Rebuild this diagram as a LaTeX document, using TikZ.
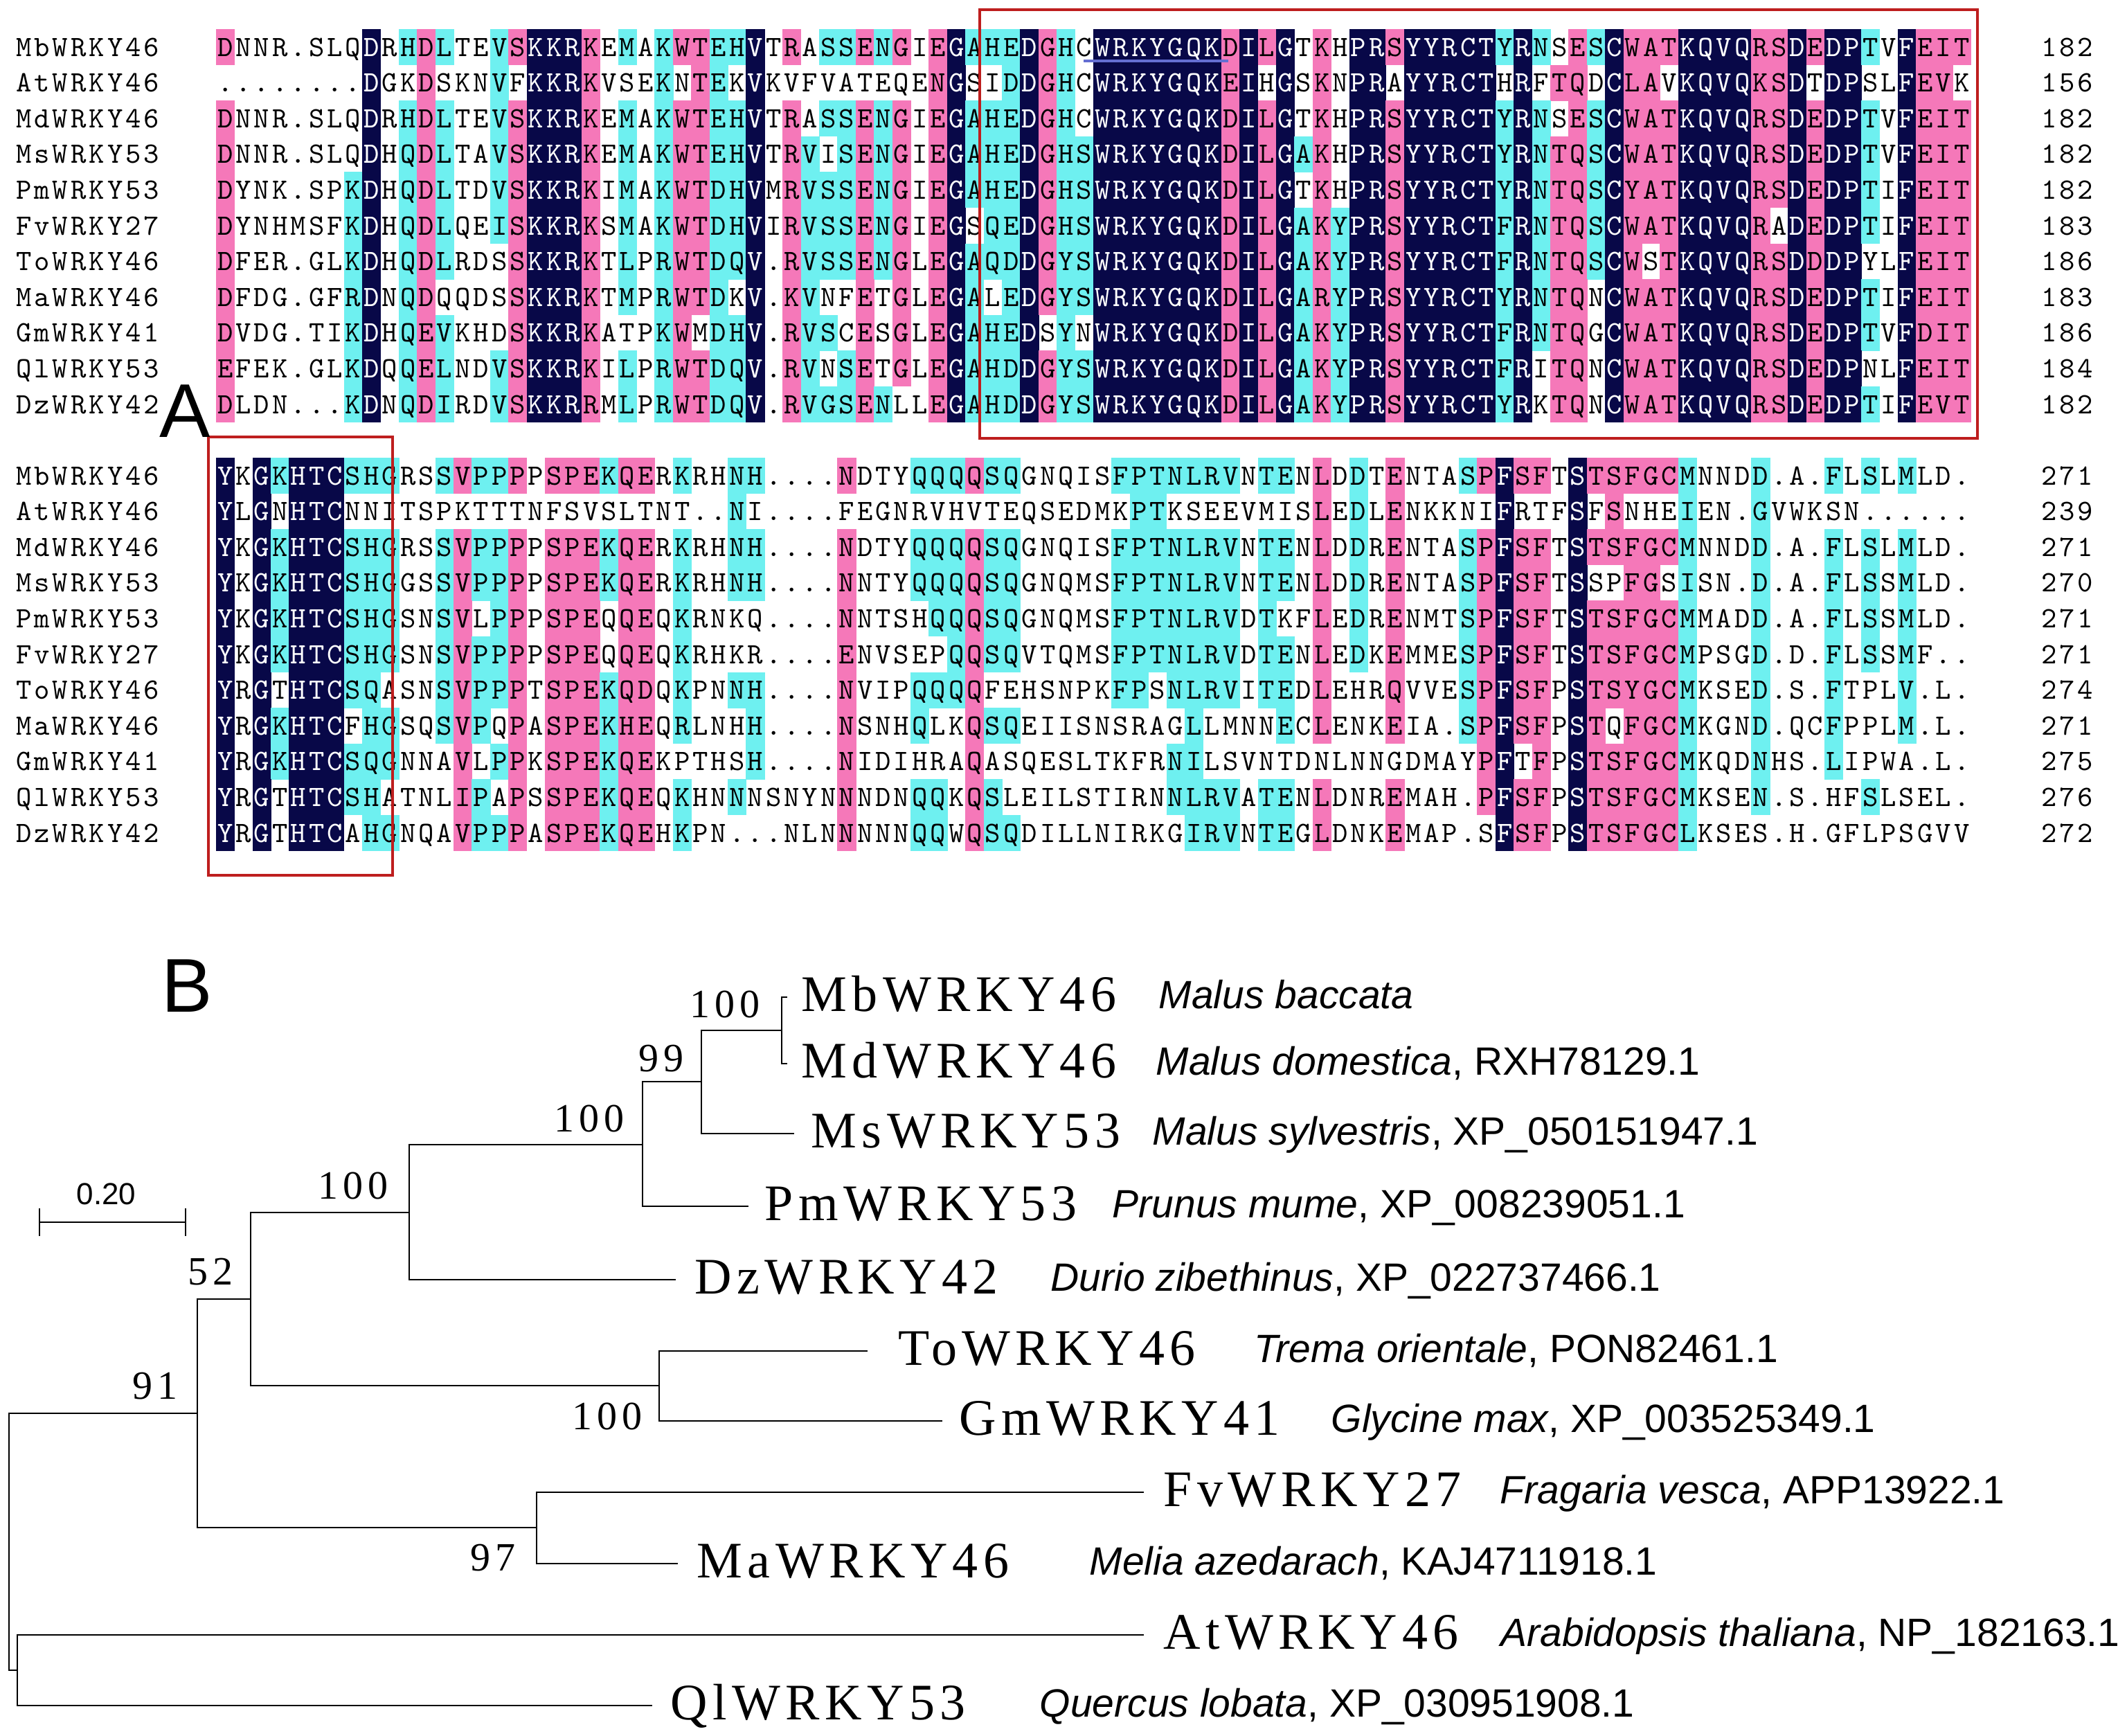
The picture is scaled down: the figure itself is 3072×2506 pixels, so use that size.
\documentclass[tikz,border=0pt]{standalone}
\usepackage{fontspec}
\setmainfont{Liberation Serif}
\newfontfamily\genef[LetterSpace=10]{Liberation Serif}
\newfontfamily\bootf[LetterSpace=12]{Liberation Serif}
\newfontfamily\sansf{Liberation Sans}
\makeatletter
\begingroup\ttfamily\addfontfeatures{FakeBold=1}\xdef\mymonofam{\f@family}\endgroup
\makeatother
\newcommand\monosel{\fontfamily{\mymonofam}\fontsize{10.65}{11}\selectfont}
\definecolor{navyc}{RGB}{8,8,72}
\definecolor{pinkc}{RGB}{245,120,185}
\definecolor{cyanc}{RGB}{110,240,240}
\definecolor{boxred}{RGB}{190,30,30}
\definecolor{ulblue}{RGB}{100,110,210}
\newcount\alcol
\def\alcy{0}
\def\alblk{1}
\def\alrow{0}
\def\alx{0}
\def\alpfx{x}
% coloured alignment cells
\def\alproc#1#2\alsep#3#4\alstop{%
  \ifx Z#1\else
    \aldocell{#1}{#3}%
    \global\advance\alcol by 1
    \alproc#2\alsep#4\alstop
  \fi}
\def\aldocell#1#2{%
  \ifx w#2\else
    \fill[bg#2] (311.7+26.4*\the\alcol,\alcy-26) rectangle (339+26.4*\the\alcol,\alcy+26);%
  \fi
  \node[seqch,tx#2] (s\alblk-\alrow-\the\alcol) at (325.2+26.4*\the\alcol,\alcy+13) {#1};%
}
% plain monospaced string, one character per 26.4 px cell
\def\alplain#1#2\alstop{%
  \ifx Z#1\else
    \node[seqch] (\alpfx-\the\alcol) at (\alx+13.2+26.4*\the\alcol,\alcy+13) {#1};%
    \global\advance\alcol by 1
    \alplain#2\alstop
  \fi}
\newcommand\seqrow[7]{%
  \def\alblk{#1}\def\alrow{#2}\def\alcy{#3}%
  \global\alcol=0
  \alproc#5Z\alsep#6Z\alstop
  \def\alx{21}\def\alpfx{nm#1-#2}\global\alcol=0
  \alplain#4Z\alstop
  \def\alx{2946}\def\alpfx{nu#1-#2}\global\alcol=0
  \alplain#7Z\alstop
}
\begin{document}
\begin{tikzpicture}[x=0.25pt,y=-0.25pt,
  bgn/.style={fill=navyc}, bgp/.style={fill=pinkc}, bgc/.style={fill=cyanc},
  txn/.style={text=white}, txp/.style={text=black}, txc/.style={text=black}, txw/.style={text=black},
  seqch/.style={font=\monosel, inner sep=0pt, anchor=base},
  redbox/.style={draw=boxred, line width=0.9pt},
  tree/.style={line width=0.7pt, line cap=rect},
  gene/.style={font=\genef\fontsize{18.5}{20}\selectfont, anchor=base west, inner sep=0pt},
  species/.style={font=\sansf\fontsize{14.25}{16}\selectfont, anchor=base west, inner sep=0pt},
  boot/.style={font=\bootf\fontsize{14.5}{16}\selectfont, anchor=base west, inner sep=0pt},
  panel/.style={font=\sansf\fontsize{27.5}{28}\selectfont, anchor=base, inner sep=0pt}]
\useasboundingbox (0,0) rectangle (3072,2506);
\fill[white] (0,0) rectangle (3072,2506);

% ---------------- Block 1 ----------------
\seqrow{1}{0}{68}{MbWRKY46}
{DNNR.SLQDR HDLTEVSKKR KEMAKWTEHV TRASSENGIE GAHEDGHCWR KYGQKDILGT KHPRSYYRCT YRNSESCWAT KQVQRSDEDP TVFEIT}
{pwwwwwwwnw cpcwwcpnnn pwcwcppccn wpwccpcpwp ncccnpcwnn nnnnnpnpnw pwnnpnnnnn cncwpcnppp nnnnppnpnn cwnppp}{182}
\seqrow{1}{1}{119.6}{AtWRKY46}
{........DG KDSKNVFKKR KVSEKNTEKV KVFVATEQEN GSIDDGHCWR KYGQKEIHGS KNPRAYYRCT HRFTQDCLAV KQVQKSDTDP SLFEVK}
{wwwwwwwwnw wpwwwcwnnn pwwwcwpcwn wwwwwwwwwp nwwcnpcwnn nnnnnpnwnw pwnnwnnnnn wnwppwnppw nnnnppnwnn wwnppw}{156}
\seqrow{1}{2}{171.2}{MdWRKY46}
{DNNR.SLQDR HDLTEVSKKR KEMAKWTEHV TRASSENGIE GAHEDGHCWR KYGQKDILGT KHPRSYYRCT YRNSESCWAT KQVQRSDEDP TVFEIT}
{pwwwwwwwnw cpcwwcpnnn pwcwcppccn wpwccpcpwp ncccnpcwnn nnnnnpnpnw pwnnpnnnnn cncwpcnppp nnnnppnpnn cwnppp}{182}
\seqrow{1}{3}{222.8}{MsWRKY53}
{DNNR.SLQDH QDLTAVSKKR KEMAKWTEHV TRVISENGIE GAHEDGHSWR KYGQKDILGA KHPRSYYRCT YRNTQSCWAT KQVQRSDEDP TVFEIT}
{pwwwwwwwnw cpcwwcpnnn pwcwcppccn wpcwcpcpwp ncccnpccnn nnnnnpnpnc pwnnpnnnnn cncppcnppp nnnnppnpnn cwnppp}{182}
\seqrow{1}{4}{274.4}{PmWRKY53}
{DYNK.SPKDH QDLTDVSKKR KIMAKWTDHV MRVSSENGIE GAHEDGHSWR KYGQKDILGT KHPRSYYRCT YRNTQSCYAT KQVQRSDEDP TIFEIT}
{pwwwwwwcnw cpcwwcpnnn pwcwcppccn wpcccpcpwp ncccnpccnn nnnnnpnpnw pwnnpnnnnn cncppcnppp nnnnppnpnn cwnppp}{182}
\seqrow{1}{5}{326}{FvWRKY27}
{DYNHMSFKDH QDLQEISKKR KSMAKWTDHV IRVSSENGIE GSQEDGHSWR KYGQKDILGA KYPRSYYRCT FRNTQSCWAT KQVQRADEDP TIFEIT}
{pwwwwwwcnw cpcwwcpnnn pwcwcppccn wpcccpcpwp nwccnpccnn nnnnnpnpnc pcnnpnnnnn cncppcnppp nnnnpwnpnn cwnppp}{183}
\seqrow{1}{6}{377.6}{ToWRKY46}
{DFER.GLKDH QDLRDSSKKR KTLPRWTDQV .RVSSENGLE GAQDDGYSWR KYGQKDILGA KYPRSYYRCT FRNTQSCWST KQVQRSDDDP YLFEIT}
{pwwwwwwcnw cpcwwwpnnn pwcwcppccn wpcccpcpwp ncccnpccnn nnnnnpnpnc pcnnpnnnnn cncppcnpwp nnnnppnpnn wwnppp}{186}
\seqrow{1}{7}{429.2}{MaWRKY46}
{DFDG.GFRDN QDQQDSSKKR KTMPRWTDKV .KVNFETGLE GALEDGYSWR KYGQKDILGA RYPRSYYRCT YRNTQNCWAT KQVQRSDEDP TIFEIT}
{pwwwwwwcnw cpwwwwpnnn pwcwcppcwn wpcwwpwpwp ncwcnpccnn nnnnnpnpnc pcnnpnnnnn cncppwnppp nnnnppnpnn cwnppp}{183}
\seqrow{1}{8}{480.8}{GmWRKY41}
{DVDG.TIKDH QEVKHDSKKR KATPKWMDHV .RVSCESGLE GAHEDSYNWR KYGQKDILGA KYPRSYYRCT FRNTQGCWAT KQVQRSDEDP TVFDIT}
{pwwwwwwcnw cpcwwwpnnn pwwwcpwccn wpccwpwpwp ncccnwcwnn nnnnnpnpnc pcnnpnnnnn cncppwnppp nnnnppnpnn cwnppp}{186}
\seqrow{1}{9}{532.4}{QlWRKY53}
{EFEK.GLKDQ QELNDVSKKR KILPRWTDQV .RVNSETGLE GAHDDGYSWR KYGQKDILGA KYPRSYYRCT FRITQNCWAT KQVQRSDEDP NLFEIT}
{pwwwwwwcnw cpcwwcpnnn pwcwcppccn wpcwcpwpwp ncccnpccnn nnnnnpnpnc pcnnpnnnnn cnwppwnppp nnnnppnpnn wwnppp}{184}
\seqrow{1}{10}{584}{DzWRKY42}
{DLDN...KDN QDIRDVSKKR RMLPRWTDQV .RVGSENLLE GAHDDGYSWR KYGQKDILGA KYPRSYYRCT YRKTQNCWAT KQVQRSDEDP TIFEVT}
{pwwwwwwcnw cpcwwcpnnn pwcwcppccn wpcccpcwwp ncccnpccnn nnnnnpnpnc pcnnpnnnnn cnwppwnppp nnnnppnpnn cwnppp}{182}

% WRKYGQK underline and box of block 1
\coordinate (ulL) at (1565,88);
\coordinate (ulR) at (1774,88);
\draw[ulblue, line width=0.8pt] (ulL) -- (ulR);
\draw[redbox] (1415,14) rectangle (2856,633);

% ---------------- Block 2 ----------------
\seqrow{2}{0}{687}{MbWRKY46}
{YKGKHTCSHG RSSVPPPPSP EKQERKRHNH ....NDTYQQ QQSQGNQISF PTNLRVNTEN LDDTENTASP FSFTSTSFGC MNNDD.A.FL SLMLD.}
{nwncnnnccc wwcpccpwpp pcppwcwwcc wwwwpwwwcc cpccwwwwwc ccccccwccw pwcwpwwwcp nppwnppppp cwwwcwwwcw cwcwww}{271}
\seqrow{2}{1}{738.6}{AtWRKY46}
{YLGNHTCNNI TSPKTTTNFS VSLTNT..NI ....FEGNRV HVTEQSEDMK PTKSEEVMIS LEDLENKKNI FRTFSFSNHE IEN.GVWKSN ......}
{nwnwnnnwww wwwwwwwwww wwwwwwwwcw wwwwwwwwww wwwwwwwwww ccwwwwwwww pwcwpwwwww nwwwnwpwww cwwwcwwwww wwwwww}{239}
\seqrow{2}{2}{790.2}{MdWRKY46}
{YKGKHTCSHG RSSVPPPPSP EKQERKRHNH ....NDTYQQ QQSQGNQISF PTNLRVNTEN LDDRENTASP FSFTSTSFGC MNNDD.A.FL SLMLD.}
{nwncnnnccc wwcpccpwpp pcppwcwwcc wwwwpwwwcc cpccwwwwwc ccccccwccw pwcwpwwwcp nppwnppppp cwwwcwwwcw cwcwww}{271}
\seqrow{2}{3}{841.8}{MsWRKY53}
{YKGKHTCSHG GSSVPPPPSP EKQERKRHNH ....NNTYQQ QQSQGNQMSF PTNLRVNTEN LDDRENTASP FSFTSSPFGS ISN.D.A.FL SSMLD.}
{nwncnnnccc wwcpccpwpp pcppwcwwcc wwwwpwwwcc cpccwwwwwc ccccccwccw pwcwpwwwcp nppwnwwppw cwwwcwwwcw cwcwww}{270}
\seqrow{2}{4}{893.4}{PmWRKY53}
{YKGKHTCSHG SNSVLPPPSP EQQEQKRNKQ ....NNTSHQ QQSQGNQMSF PTNLRVDTKF LEDRENMTSP FSFTSTSFGC MMADD.A.FL SSMLD.}
{nwncnnnccc wwcpwcpwpp pwppwcwwww wwwwpwwwwc cpccwwwwwc ccccccwcww pwcwpwwwcp nppwnppppp cwwwcwwwcw cwcwww}{271}
\seqrow{2}{5}{945}{FvWRKY27}
{YKGKHTCSHG SNSVPPPPSP EQQEQKRHKR ....ENVSEP QQSQVTQMSF PTNLRVDTEN LEDKEMMESP FSFTSTSFGC MPSGD.D.FL SSMF..}
{nwncnnnccc wwcpccpwpp pwppwcwwww wwwwpwwwww cpccwwwwwc ccccccwccw pwcwpwwwcp nppwnppppp cwwwcwwwcw cwcwww}{271}
\seqrow{2}{6}{996.6}{ToWRKY46}
{YRGTHTCSQA SNSVPPPTSP EKQDQKPNNH ....NVIPQQ QQFEHSNPKF PSNLRVITED LEHRQVVESP FSFPSTSYGC MKSED.S.FT PLV.L.}
{nwnwnnnccw wwcpccpwpp pcppwcwwcc wwwwpwwwcc cpwwwwwwwc cwccccwccw pwwwpwwwcp nppwnppppp cwwwcwwwcw wwcwww}{274}
\seqrow{2}{7}{1048.2}{MaWRKY46}
{YRGKHTCFHG SQSVPQPASP EKHEQRLNHH ....NSNHQL KQSQEIISNS RAGLLMNNEC LENKEIA.SP FSFPSTQFGC MKGND.QCFP PLM.L.}
{nwncnnnwcc wwcpcwpwpp pcppwcwwwc wwwwpwwwcw wpccwwwwww wwwcwwwwcw pwwwpwwwcp nppwnpwppp cwwwcwwwcw wwcwww}{271}
\seqrow{2}{8}{1099.8}{GmWRKY41}
{YRGKHTCSQG NNAVLPPKSP EKQEKPTHSH ....NIDIHR AQASQESLTK FRNILSVNTD NLNNGDMAYP FTFPSTSFGC MKQDNHS.LI PWA.L.}
{nwncnnnccc wwwpwcpwpp pcppwwwwwc wwwwpwwwww wpwwwwwwww wwccwwwwww wwwwwwwwwp nwpwnppppp cwwwcwwwcw wwwwww}{275}
\seqrow{2}{9}{1151.4}{QlWRKY53}
{YRGTHTCSHA TNLIPAPSSP EKQEQKHNNN SNYNNNDNQQ KQSLEILSTI RNNLRVATEN LDNREMAH.P FSFPSTSFGC MKSEN.S.HF SLSEL.}
{nwnwnnnccw wwwpcwpwpp pcppwcwwcw wwwwpwwwcc wpcwwwwwww wwccccwccw pwwwpwwwwp nppwnppppp cwwwcwwwww cwwwww}{276}
\seqrow{2}{10}{1203}{DzWRKY42}
{YRGTHTCAHG NQAVPPPASP EKQEHKPN.. .NLNNNNNQQ WQSQDILLNI RKGIRVNTEG LDNKEMAP.S FSFPSTSFGC LKSES.H.GF LPSGVV}
{nwnwnnnwcc wwwpccpwpp pcppwcwwww wwwwpwwwcc wpccwwwwww wwwcccwccw pwwwpwwwww nppwnppppp cwwwwwwwww wwwwww}{272}

\draw[redbox] (301,631) rectangle (567,1264);

% panel letters
\node[panel] (labA) at (267,631) {A};
\node[panel] (labB) at (270,1461) {B};

% ---------------- Tree ----------------
\coordinate (tMb) at (1136,1440);
\coordinate (tMd) at (1136,1536);
\coordinate (nMbMd) at (1129,1488);
\coordinate (tMs) at (1146,1637);
\coordinate (n99) at (1013,1562);
\coordinate (tPm) at (1080,1742);
\coordinate (nA) at (928,1653);
\coordinate (tDz) at (975,1848);
\coordinate (nB) at (591,1751);
\coordinate (tTo) at (1252,1951);
\coordinate (tGm) at (1360,2052);
\coordinate (nToGm) at (952,2001);
\coordinate (n52) at (362,1876);
\coordinate (tFv) at (1651,2155);
\coordinate (tMa) at (978,2258);
\coordinate (n97) at (775,2206);
\coordinate (n91) at (285,2041);
\coordinate (tAt) at (1651,2361);
\coordinate (tQl) at (941,2463);
\coordinate (nAtQl) at (25,2412);
\coordinate (root) at (13,2226);

\draw[tree] (nMbMd) |- (tMb);
\draw[tree] (nMbMd) |- (tMd);
\draw[tree] (n99) |- (nMbMd);
\draw[tree] (n99) |- (tMs);
\draw[tree] (nA) |- (n99);
\draw[tree] (nA) |- (tPm);
\draw[tree] (nB) |- (nA);
\draw[tree] (nB) |- (tDz);
\draw[tree] (nToGm) |- (tTo);
\draw[tree] (nToGm) |- (tGm);
\draw[tree] (n52) |- (nB);
\draw[tree] (n52) |- (nToGm);
\draw[tree] (n97) |- (tFv);
\draw[tree] (n97) |- (tMa);
\draw[tree] (n91) |- (n52);
\draw[tree] (n91) |- (n97);
\draw[tree] (nAtQl) |- (tAt);
\draw[tree] (nAtQl) |- (tQl);
\draw[tree] (root) |- (n91);
\draw[tree] (root) |- (nAtQl);

% bootstrap values
\node[boot] (b1) at (996,1469) {100};
\node[boot] (b2) at (922,1547) {99};
\node[boot] (b3) at (800,1634) {100};
\node[boot] (b4) at (459,1731) {100};
\node[boot] (b5) at (271,1855) {52};
\node[boot] (b6) at (191,2020) {91};
\node[boot] (b7) at (826,2064) {100};
\node[boot] (b8) at (679,2268) {97};

% leaf names
\node[gene] (gMb) at (1157,1460) {MbWRKY46};
\node[gene] (gMd) at (1157,1556) {MdWRKY46};
\node[gene] (gMs) at (1171,1657) {MsWRKY53};
\node[gene] (gPm) at (1104,1762) {PmWRKY53};
\node[gene] (gDz) at (1003,1868) {DzWRKY42};
\node[gene] (gTo) at (1297,1971) {ToWRKY46};
\node[gene] (gGm) at (1385,2072) {GmWRKY41};
\node[gene] (gFv) at (1680,2175) {FvWRKY27};
\node[gene] (gMa) at (1006,2278) {MaWRKY46};
\node[gene] (gAt) at (1680,2381) {AtWRKY46};
\node[gene] (gQl) at (968,2483) {QlWRKY53};

% species
\node[species] (pMb) at (1673,1456) {\textit{Malus baccata}};
\node[species] (pMd) at (1669,1552) {\textit{Malus domestica}, RXH78129.1};
\node[species] (pMs) at (1664,1653) {\textit{Malus sylvestris}, XP\_050151947.1};
\node[species] (pPm) at (1606,1758) {\textit{Prunus mume}, XP\_008239051.1};
\node[species] (pDz) at (1517,1864) {\textit{Durio zibethinus}, XP\_022737466.1};
\node[species] (pTo) at (1811,1967) {\textit{Trema orientale}, PON82461.1};
\node[species] (pGm) at (1922,2068) {\textit{Glycine max}, XP\_003525349.1};
\node[species] (pFv) at (2166,2171) {\textit{Fragaria vesca}, APP13922.1};
\node[species] (pMa) at (1573,2274) {\textit{Melia azedarach}, KAJ4711918.1};
\node[species] (pAt) at (2167,2377) {\textit{Arabidopsis thaliana}, NP\_182163.1};
\node[species] (pQl) at (1501,2479) {\textit{Quercus lobata}, XP\_030951908.1};

% scale bar
\coordinate (sbL) at (57,1765);
\coordinate (sbR) at (268,1765);
\draw[tree] (sbL) -- (sbR);
\draw[tree] (sbL) ++(0,-19) -- ++(0,38);
\draw[tree] (sbR) ++(0,-19) -- ++(0,38);
\node[font=\sansf\fontsize{11}{11}\selectfont, anchor=base west, inner sep=0pt] (sbtxt) at (110,1739) {0.20};
\end{tikzpicture}
\end{document}
